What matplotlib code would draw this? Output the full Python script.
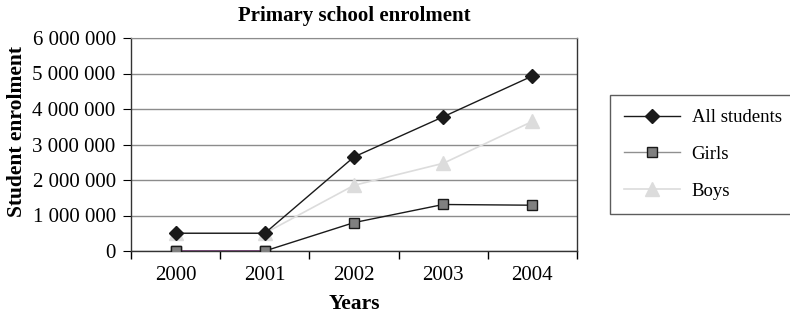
import matplotlib.pyplot as plt
from matplotlib.ticker import FuncFormatter

plt.rcParams['font.family'] = ['Liberation Serif', 'DejaVu Serif']

years = ["2000", "2001", "2002", "2003", "2004"]
all_students = [500000, 500000, 2650000, 3780000, 4930000]
girls = [0, 0, 800000, 1310000, 1290000]
boys = [500000, 500000, 1850000, 2470000, 3650000]

fig = plt.figure(figsize=(7.9, 3.16), dpi=100)
ax = fig.add_axes([131 / 790, 1 - 251 / 316, (577 - 131) / 790, (251 - 38) / 316])

x = list(range(len(years)))

ax.plot(x, boys, color="#dcdcdc", lw=1.2, marker="^", ms=10,
        mfc="#dcdcdc", mec="#dcdcdc", label="Boys", zorder=3)
ax.plot(x, all_students, color="#1a1a1a", lw=1.0, marker="D", ms=7.5,
        mfc="#1a1a1a", mec="#1a1a1a", label="All students", zorder=4)
ax.plot(x, girls, color="#1a1a1a", lw=1.0, marker="s", ms=7.5,
        mfc="#808080", mec="#1a1a1a", label="Girls", zorder=5)
# first girls segment is drawn in purple in the original
ax.plot(x[:2], girls[:2], color="#7a4a7a", lw=1.2, zorder=5)
ax.plot(x[:2], girls[:2], ls="none", marker="s", ms=7.5,
        mfc="#808080", mec="#1a1a1a", zorder=6)

ax.set_xlim(-0.5, 4.5)
ax.set_ylim(0, 6000000)
ax.set_yticks(range(0, 6000001, 1000000))
ax.yaxis.set_major_formatter(FuncFormatter(lambda v, p: f"{int(v):,}".replace(",", " ")))
ax.set_xticks([i - 0.5 for i in range(len(years) + 1)])
ax.set_xticklabels([])
ax.set_xticks(x, minor=True)
ax.set_xticklabels(years, minor=True)
ax.tick_params(axis="x", which="minor", length=0, pad=11, labelsize=15)
ax.tick_params(axis="x", which="major", length=6, direction="out", width=1)
ax.tick_params(axis="y", length=6, direction="out", labelsize=15, pad=5)

ax.grid(axis="y", color="#8c8c8c", lw=1)
ax.set_axisbelow(True)
for s in ["left", "bottom", "right"]:
    ax.spines[s].set_color("#333333")
    ax.spines[s].set_linewidth(1)
ax.spines["top"].set_color("#8c8c8c")

ax.set_title("Primary school enrolment", fontsize=15, fontweight="bold", pad=12)
ax.set_xlabel("Years", fontsize=15.5, fontweight="bold", labelpad=6)
ax.set_ylabel("Student enrolment", fontsize=15.5, fontweight="bold", labelpad=4)
ax.yaxis.label.set_y(0.563)

h, l = ax.get_legend_handles_labels()
order = [1, 2, 0]
leg = fig.legend([h[i] for i in order], [l[i] for i in order],
                 loc="upper left", bbox_to_anchor=(610 / 790, 1 - 95 / 316, 190 / 790, 0),
                 mode="expand", fontsize=13.5, frameon=True, fancybox=False,
                 edgecolor="#333333", handlelength=3.0, labelspacing=1.05,
                 borderpad=0.75, handletextpad=0.6, borderaxespad=0)
leg.get_frame().set_linewidth(1)
# legend shows girls line in gray
leg.get_lines()[1].set_color("#909090")

fig.savefig("out.png", dpi=100)
